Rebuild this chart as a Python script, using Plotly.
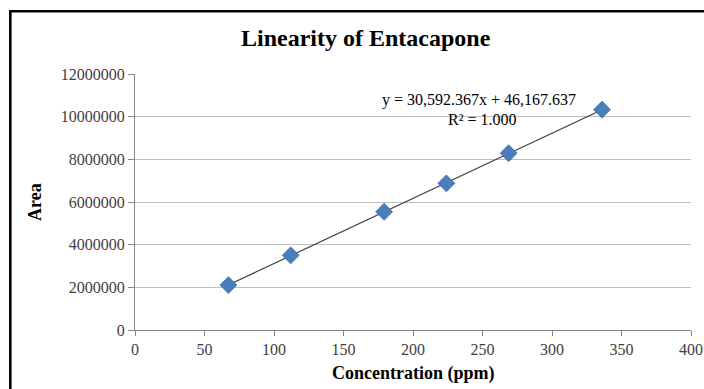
import numpy as np
import plotly.graph_objects as go

# Data
concentration = [67.2, 112, 179.2, 224, 268.8, 336]
area = [2105000, 3500000, 5540000, 6875000, 8285000, 10330000]
x_ticks = [0, 50, 100, 150, 200, 250, 300, 350, 400]
y_ticks = [0, 2000000, 4000000, 6000000, 8000000, 10000000, 12000000]
title_text = "Linearity of Entacapone"
x_title = "Concentration (ppm)"
y_title = "Area"
eq_line1 = "y = 30,592.367x + 46,167.637"
eq_line2 = "R² = 1.000"

# Trendline via least squares on the data
slope, intercept = np.polyfit(concentration, area, 1)
trend_x = [min(concentration), max(concentration)]
trend_y = [slope * v + intercept for v in trend_x]

W, H = 704, 389
L, R, T, B = 135, 13, 74, 59
pw, ph = W - L - R, H - T - B

def px_to_paper_x(px):
    return (px - L) / pw

def py_to_paper_y(py):
    return (H - B - py) / ph

serif = "Liberation Serif, Times New Roman, serif"

fig = go.Figure()
fig.add_trace(go.Scatter(
    x=trend_x, y=trend_y, mode="lines",
    line=dict(color="#3f3f3f", width=1.2),
    hoverinfo="skip", showlegend=False,
))
fig.add_trace(go.Scatter(
    x=concentration, y=area, mode="markers",
    marker=dict(symbol="diamond", size=13, color="#4a7ebb",
                line=dict(color="#3c6ca8", width=0.8)),
    showlegend=False,
))

fig.update_layout(
    width=W, height=H,
    margin=dict(l=L, r=R, t=T, b=B, autoexpand=False),
    paper_bgcolor="white", plot_bgcolor="white",
    font=dict(family=serif, color="#404040", size=16),
    xaxis=dict(
        range=[0, 400], tickvals=x_ticks, ticktext=[str(v) for v in x_ticks],
        showgrid=False, zeroline=False, showline=True, linecolor="#868686",
        linewidth=1, ticks="outside", ticklen=5, tickcolor="#868686",
        tickfont=dict(family=serif, size=16, color="#404040"),
        automargin=False,
    ),
    yaxis=dict(
        range=[0, 12000000], tickvals=y_ticks, ticktext=[str(v) for v in y_ticks],
        showgrid=True, gridcolor="#bfbfbf", gridwidth=1.2,
        zeroline=False, showline=True, linecolor="#868686",
        linewidth=1, ticks="outside", ticklen=6, tickcolor="#868686",
        tickfont=dict(family=serif, size=16, color="#404040"),
        automargin=False,
    ),
    showlegend=False,
)

annotations = [
    dict(text="<b>" + title_text + "</b>", x=px_to_paper_x(366), y=py_to_paper_y(38),
         xref="paper", yref="paper", showarrow=False,
         font=dict(family=serif, size=24, color="#000000"),
         xanchor="center", yanchor="middle"),
    dict(text="<b>" + x_title + "</b>", x=px_to_paper_x(413), y=py_to_paper_y(373),
         xref="paper", yref="paper", showarrow=False,
         font=dict(family=serif, size=18, color="#000000"),
         xanchor="center", yanchor="middle"),
    dict(text="<b>" + y_title + "</b>", x=px_to_paper_x(35), y=py_to_paper_y(202),
         xref="paper", yref="paper", showarrow=False, textangle=-90,
         font=dict(family=serif, size=18, color="#000000"),
         xanchor="center", yanchor="middle"),
    dict(text=eq_line1, x=px_to_paper_x(479), y=py_to_paper_y(99.5),
         xref="paper", yref="paper", showarrow=False,
         font=dict(family=serif, size=16, color="#000000"),
         xanchor="center", yanchor="middle"),
    dict(text=eq_line2, x=px_to_paper_x(482), y=py_to_paper_y(119),
         xref="paper", yref="paper", showarrow=False,
         font=dict(family=serif, size=16, color="#000000"),
         xanchor="center", yanchor="middle"),
]
fig.update_layout(annotations=annotations)

# Outer frame: only left and top edges are visible in the picture
frame = dict(color="#000000", width=2.6)
fig.add_shape(type="line", xref="paper", yref="paper",
              x0=px_to_paper_x(10.3), x1=px_to_paper_x(10.3),
              y0=py_to_paper_y(10), y1=py_to_paper_y(400),
              line=frame, layer="above")
fig.add_shape(type="line", xref="paper", yref="paper",
              x0=px_to_paper_x(9), x1=px_to_paper_x(710),
              y0=py_to_paper_y(11.3), y1=py_to_paper_y(11.3),
              line=frame, layer="above")

fig.write_html("out.html",
               config={"displayModeBar": False},
               post_script="document.body.style.margin='0';document.body.style.padding='0';")
